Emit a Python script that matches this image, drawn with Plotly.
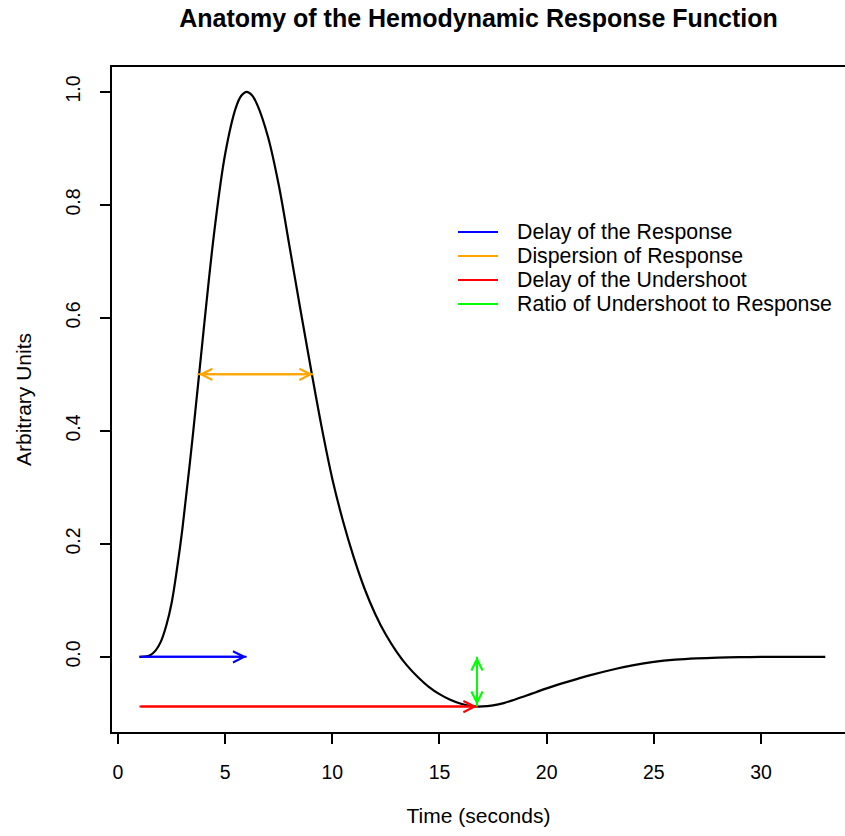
import plotly.graph_objects as go

# ---- data ----
time_s = [1, 1.25, 1.5, 1.75, 2, 2.25, 2.5, 2.75, 3, 3.5, 4, 4.5, 5, 5.5, 5.75, 6, 6.25,
          6.5, 7, 7.5, 8, 8.5, 9, 9.5, 10, 10.5, 11, 11.5, 12, 12.5, 13, 13.5, 14, 14.5,
          15, 15.5, 16, 16.5, 17, 17.5, 18, 18.5, 19, 19.5, 20, 21, 22, 23, 24, 25, 26,
          27, 28, 29, 30, 31, 32, 33]
hrf = [0.0, 0.0005, 0.003, 0.011, 0.027, 0.055, 0.095, 0.155, 0.225, 0.395, 0.58,
       0.755, 0.89, 0.972, 0.993, 1.0, 0.994, 0.977, 0.92, 0.835, 0.727, 0.617, 0.51,
       0.407, 0.315, 0.24, 0.176, 0.121, 0.076, 0.039, 0.009, -0.016, -0.036, -0.053,
       -0.066, -0.076, -0.083, -0.0872, -0.0878, -0.0858, -0.0818, -0.0758, -0.0692,
       -0.0625, -0.0558, -0.0438, -0.0328, -0.0232, -0.0152, -0.0090, -0.0050, -0.0026,
       -0.0012, -0.0005, -0.0002, 0.0, 0.0, 0.0]

arrow_names = ["Delay of the Response", "Dispersion of Response",
               "Delay of the Undershoot", "Ratio of Undershoot to Response"]
arrow_colors = ["#0000FF", "#FFA500", "#FF0000", "#00FF00"]
arrow_x0 = [1, 3.7, 1, 16.75]
arrow_y0 = [0.0, 0.5, -0.088, -0.088]
arrow_x1 = [6, 9.1, 16.75, 16.75]
arrow_y1 = [0.0, 0.5, -0.088, 0.0]
arrow_sides = ["end", "end+start", "end", "end+start"]

x_ticks = [0, 5, 10, 15, 20, 25, 30]
y_ticks = [0.0, 0.2, 0.4, 0.6, 0.8, 1.0]
y_tick_text = ["0.0", "0.2", "0.4", "0.6", "0.8", "1.0"]

FONT = "Liberation Sans, Arial, Helvetica, sans-serif"

fig = go.Figure()
fig.add_trace(go.Scatter(x=time_s, y=hrf, mode="lines",
                         line=dict(color="black", width=2.2, shape="spline", smoothing=1.0),
                         showlegend=False, hoverinfo="skip"))

annotations = []
shapes = []
# legend (R-style, no box): key line + label per arrow
leg_key_x = [0.472, 0.5266]
leg_text_x = 0.5498
leg_rows_y = [0.7519, 0.7158, 0.6797, 0.6436]
for name, col, x0, y0, x1, y1, side, ly in zip(arrow_names, arrow_colors, arrow_x0, arrow_y0,
                                               arrow_x1, arrow_y1, arrow_sides, leg_rows_y):
    fig.add_trace(go.Scatter(x=[x0, x1], y=[y0, y1], mode="lines", name=name,
                             line=dict(color=col, width=2), hoverinfo="skip", showlegend=False))
    annotations.append(dict(x=x1, y=y1, ax=x0, ay=y0, xref="x", yref="y", axref="x", ayref="y",
                            text="", showarrow=True, arrowhead=5, arrowsize=1.1, arrowwidth=2,
                            startarrowhead=5, startarrowsize=1.1, arrowside=side,
                            arrowcolor=col, standoff=0, startstandoff=0))
    shapes.append(dict(type="line", xref="paper", yref="paper", x0=leg_key_x[0], x1=leg_key_x[1],
                       y0=ly, y1=ly, line=dict(color=col, width=2)))
    annotations.append(dict(x=leg_text_x, y=ly, xref="paper", yref="paper", text=name,
                            showarrow=False, xanchor="left", yanchor="middle",
                            font=dict(family=FONT, size=21.3, color="black")))

fig.update_layout(
    width=845, height=836,
    margin=dict(l=112, r=0, t=67, b=104),
    paper_bgcolor="white", plot_bgcolor="white",
    font=dict(family=FONT, color="black", size=19),
    title=dict(text="Anatomy of the Hemodynamic Response Function", x=0.5, xanchor="center",
               xref="paper", y=1 - 18 / 836, yanchor="middle", yref="container",
               font=dict(family=FONT, size=25, weight="bold", color="black")),
    annotations=annotations,
    shapes=shapes,
    showlegend=False,
)
fig.update_xaxes(range=[-0.28, 33.92], tickvals=x_ticks, ticks="outside", ticklen=10, tickwidth=1.5,
                 tickcolor="black", showline=True, linecolor="black", linewidth=2, mirror=True,
                 showgrid=False, zeroline=False, ticklabelstandoff=12,
                 tickfont=dict(size=19.5),
                 title=dict(text="Time (seconds)", font=dict(size=21), standoff=26))
fig.update_yaxes(range=[-0.133, 1.044], tickvals=y_ticks, ticktext=y_tick_text, ticks="outside",
                 ticklen=10, tickwidth=1.5, tickcolor="black", showline=True, linecolor="black",
                 linewidth=2, mirror=False, showgrid=False, zeroline=False, tickangle=-90,
                 ticklabelstandoff=12, tickfont=dict(size=19.5),
                 title=dict(text="Arbitrary Units", font=dict(size=21), standoff=25))

fig.write_html("out.html")
